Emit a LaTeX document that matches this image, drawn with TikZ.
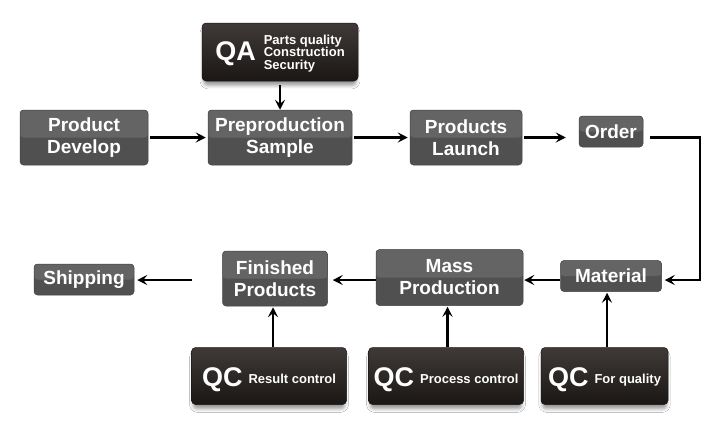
\documentclass[tikz,border=0pt]{standalone}
\usepackage{fontspec}
\setmainfont{Liberation Sans}
\usetikzlibrary{arrows.meta,shadows.blur}
\definecolor{gtop}{HTML}{646464}
\definecolor{gbot}{HTML}{505050}
\definecolor{dtop}{HTML}{3F3A37}
\definecolor{dbot}{HTML}{1B1715}
\tikzset{
  graybox/.style={rounded corners=3.5pt, fill=gbot, draw=gbot!85!black, line width=0.5pt,
    text=white, font=\bfseries\fontsize{19}{22}\selectfont, align=center, inner sep=0pt,
    path picture={\fill[gtop] (path picture bounding box.north west) rectangle (path picture bounding box.east);}},
  darkbox/.style={rounded corners=4pt, top color=dtop, bottom color=dbot, draw=dbot, line width=0.5pt,
    text=white, inner sep=0pt,
    blur shadow={shadow xshift=0pt, shadow yshift=-5pt, shadow scale=0.98, shadow blur radius=3.5pt, shadow opacity=40}},
  arr/.style={line width=2.2pt, -{Stealth[length=10pt,width=10pt,inset=4pt]}},
}
\newcommand{\biglabel}[1]{$\vcenter{\hbox{\bfseries\fontsize{27}{27}\selectfont #1}}$}
\newcommand{\smalltxt}[1]{$\vcenter{\hbox{\bfseries\fontsize{13}{15}\selectfont\begin{tabular}{@{}l@{}}#1\end{tabular}}}$}
\begin{document}
\begin{tikzpicture}[x=1pt,y=-1pt]
\useasboundingbox[fill=white] (0,0) rectangle (711,432);
% top row
\node[darkbox, minimum width=156pt, minimum height=58pt] (qa) at (280,52)
  {\raisebox{-4pt}[0pt][0pt]{\biglabel{QA}\hspace{8pt}\smalltxt{Parts quality\\[-2.5pt]Construction\\[-2.5pt]Security}}};
\node[graybox, minimum width=128pt, minimum height=55pt] (pd) at (84,137.5) {Product\\Develop};
\node[graybox, minimum width=144pt, minimum height=55pt] (ps) at (280,137.5) {Preproduction\\Sample};
\node[graybox, minimum width=112pt, minimum height=55pt] (pl) at (466,137.5) {Products\\Launch};
\node[graybox, minimum width=64pt, minimum height=31pt] (order) at (611,131.5) {Order};
% second row
\node[graybox, minimum width=100pt, minimum height=31pt] (ship) at (84,279.5) {Shipping};
\node[graybox, minimum width=105pt, minimum height=55pt] (fp) at (275,278.5) {Finished\\Products};
\node[graybox, minimum width=147pt, minimum height=56pt] (mp) at (449.5,277.5) {Mass\\Production};
\node[graybox, minimum width=101pt, minimum height=31pt] (mat) at (611,276) {Material};
% QC row
\node[darkbox, minimum width=155pt, minimum height=57pt] (qc1) at (269,376)
  {\raisebox{-6.5pt}[0pt][0pt]{\biglabel{QC}\hspace{6pt}\smalltxt{Result control}}};
\node[darkbox, minimum width=155pt, minimum height=57pt] (qc2) at (446,376)
  {\raisebox{-6.5pt}[0pt][0pt]{\biglabel{QC}\hspace{6pt}\smalltxt{Process control}}};
\node[darkbox, minimum width=127pt, minimum height=57pt] (qc3) at (604.5,376)
  {\raisebox{-6.5pt}[0pt][0pt]{\biglabel{QC}\hspace{6pt}\smalltxt{For quality}}};
% connectors
\coordinate (c1) at (700,137.5);
\coordinate (c2) at (700,280);
\draw[arr, shorten <=4pt] (qa.south) -- (ps.north);
\draw[arr, shorten <=2pt, shorten >=2pt] (pd.east) -- (ps.west);
\draw[arr, shorten <=2pt, shorten >=2pt] (ps.east) -- (pl.west);
\draw[arr, shorten <=2pt, shorten >=13pt] (pl.east) -- (pl.east -| order.west);
\draw[arr, shorten <=7pt, shorten >=3pt] (order.east |- c1) -- (c1) -- (c2) -- (mat.east |- c2);
\draw[arr, shorten >=1pt] (mat.west |- c2) -- (mp.east |- c2);
\draw[arr, shorten >=5pt] (mp.west |- c2) -- (fp.east |- c2);
\draw[arr, shorten <=30pt, shorten >=3pt] (fp.west |- c2) -- (ship.east |- c2);
\draw[arr, shorten >=1pt] ([xshift=-2pt]fp.south |- qc1.north) -- ([xshift=-2pt]fp.south);
\draw[arr, shorten >=1pt] ([xshift=-2pt]mp.south |- qc2.north) -- ([xshift=-2pt]mp.south);
\draw[arr, shorten >=1pt] ([xshift=-4pt]mat.south |- qc3.north) -- ([xshift=-4pt]mat.south);
\end{tikzpicture}
\end{document}
